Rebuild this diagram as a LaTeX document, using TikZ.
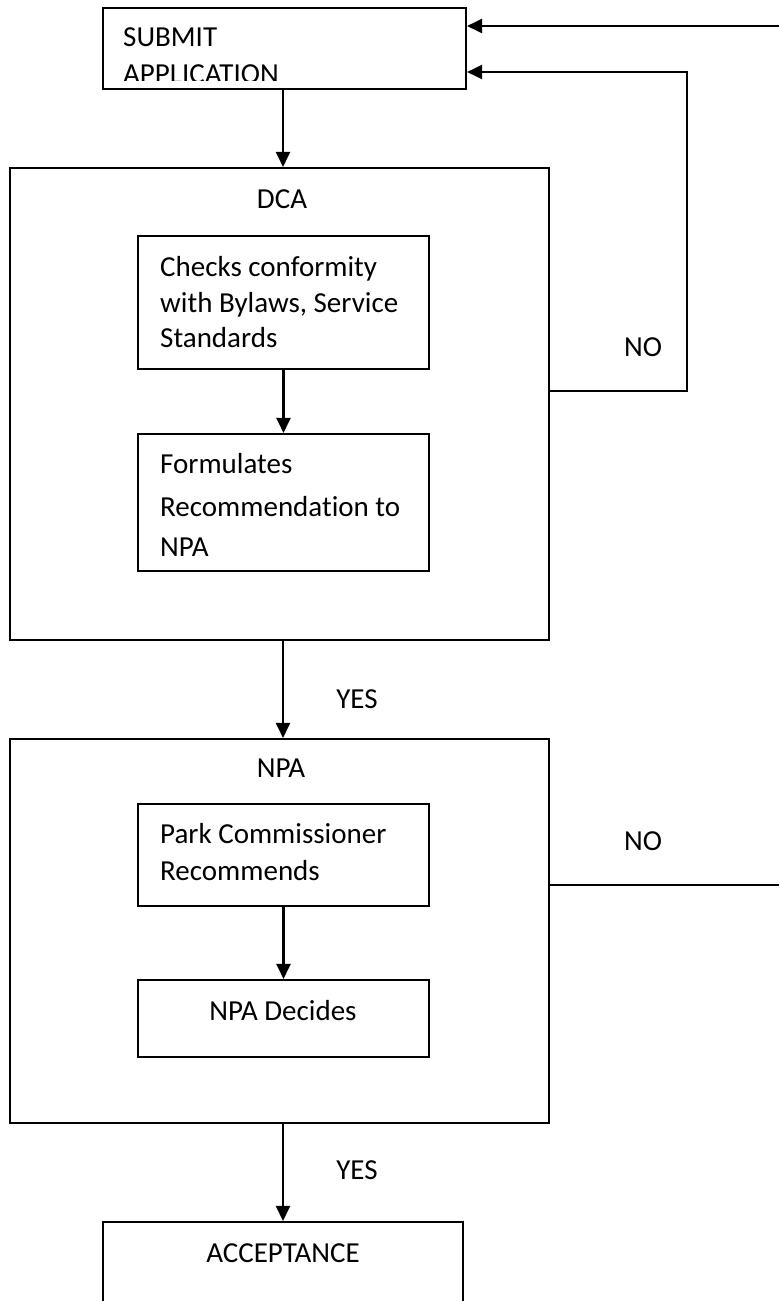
\documentclass[tikz,border=0pt]{standalone}
\usepackage{fontspec}
\setmainfont{Carlito}[Ligatures=NoCommon]
\usetikzlibrary{arrows.meta}
\begin{document}
\begin{tikzpicture}[x=1pt,y=-1pt,
  box/.style={draw=black,line width=2.1pt,rectangle,inner sep=0pt},
  txt/.style={font=\fontsize{29}{35}\selectfont,inner sep=0pt},
  conn/.style={line width=2.1pt,-{Triangle[length=15pt,width=14pt]}},
  plain/.style={line width=2.1pt}]
\useasboundingbox (0,0) rectangle (779,1301);
\fill[white] (0,0) rectangle (779,1301);
% boxes
\node[box,minimum width=363pt,minimum height=81pt] (sub) at (284.5,48.5) {};
\node[box,minimum width=539pt,minimum height=472pt] (dca) at (279.5,404) {};
\node[box,minimum width=291pt,minimum height=133pt] (c1) at (283.5,302.5) {};
\node[box,minimum width=291pt,minimum height=137pt] (c2) at (283.5,502.5) {};
\node[box,minimum width=539pt,minimum height=384pt] (npa) at (279.5,931) {};
\node[box,minimum width=291pt,minimum height=102pt] (c3) at (283.5,855) {};
\node[box,minimum width=291pt,minimum height=77pt] (c4) at (283.5,1018.5) {};
\node[box,minimum width=360pt,minimum height=120pt] (acc) at (283,1282) {};
% texts
\begin{scope}
\clip (103,8) rectangle (466,80);
\node[txt,anchor=base west] (t1) at (123,46) {SUBMIT};
\node[txt,anchor=base west] (t2) at (123,83.5) {APPLICATION};
\end{scope}
\node[txt,anchor=base] (tdca) at (282,208) {DCA};
\node[txt,anchor=base west] (t3) at (160,276) {Checks conformity};
\node[txt,anchor=base west] (t4) at (160,312) {with Bylaws, Service};
\node[txt,anchor=base west] (t5) at (160,347) {Standards};
\node[txt,anchor=base west] (t6) at (160,473) {Formulates};
\node[txt,anchor=base west] (t7) at (160,516) {Recommendation to};
\node[txt,anchor=base west] (t8) at (160,556) {NPA};
\node[txt,anchor=base] (tnpa) at (281,777) {NPA};
\node[txt,anchor=base west] (t9) at (160,843) {Park Commissioner};
\node[txt,anchor=base west] (t10) at (160,880) {Recommends};
\node[txt,anchor=base] (t11) at (283,1020) {NPA Decides};
\node[txt,anchor=base] (tacc) at (283,1262) {ACCEPTANCE};
\node[txt,anchor=base] (y1) at (357,708) {YES};
\node[txt,anchor=base] (y2) at (357,1179) {YES};
\node[txt,anchor=base] (n1) at (643,356) {NO};
\node[txt,anchor=base] (n2) at (643,850) {NO};
% connectors
\coordinate (e1) at (779,26);
\coordinate (e2) at (779,885);
\draw[conn] (sub.south -| acc.north) -- (acc.north |- dca.north);
\draw[conn] (c1.south) -- (c2.north);
\draw[conn] (acc.north |- dca.south) -- (acc.north |- npa.north);
\draw[conn] (c3.south) -- (c4.north);
\draw[conn] (acc.north |- npa.south) -- (acc.north);
\draw[conn] (e1) -- (e1 -| sub.east);
\draw[conn] (dca.east |- 0,391) -- (687,391) -- (687,72) -- (sub.east |- 0,72);
\draw[plain] (npa.east |- e2) -- (e2);
\end{tikzpicture}
\end{document}
